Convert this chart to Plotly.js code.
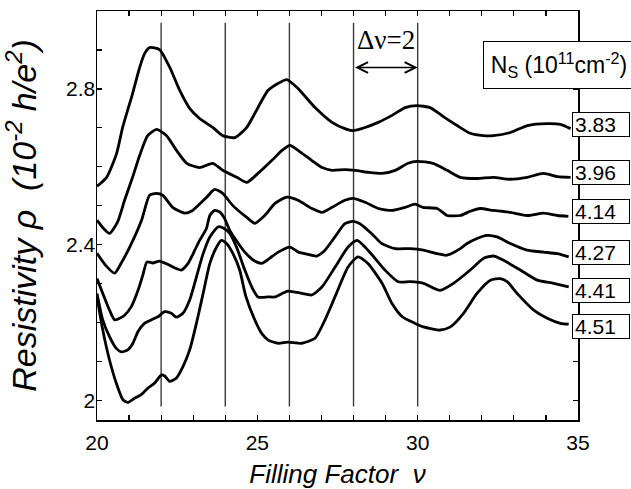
<!DOCTYPE html>
<html>
<head>
<meta charset="utf-8">
<script src="https://cdn.plot.ly/plotly-3.0.1.min.js"></script>
<style>
  html, body { margin: 0; padding: 0; background: #fff; }
  #chart { width: 631px; height: 489px; }
</style>
</head>
<body>
<div id="chart"></div>
<script>
// ---- Data (filling factor ν vs resistivity ρ) ----
const densities = ["3.83", "3.96", "4.14", "4.27", "4.41", "4.51"];

const nu_383 = [20.0, 20.30, 20.61, 20.80, 21.11, 21.33, 21.48, 21.64, 21.95, 22.27, 22.58, 22.89, 23.20, 23.61, 23.92, 24.30, 24.67, 24.92, 25.33, 25.64, 25.92, 26.27, 26.80, 27.33, 27.73, 27.98, 28.36, 28.77, 29.20, 29.61, 29.98, 30.39, 30.80, 31.23, 31.64, 32.05, 32.36, 32.89, 33.42, 34.05, 34.45, 34.77];
const rho_383 = [2.550, 2.573, 2.634, 2.701, 2.788, 2.855, 2.890, 2.906, 2.901, 2.855, 2.796, 2.750, 2.724, 2.701, 2.680, 2.675, 2.701, 2.737, 2.796, 2.814, 2.824, 2.801, 2.752, 2.714, 2.698, 2.693, 2.701, 2.714, 2.732, 2.752, 2.757, 2.752, 2.729, 2.706, 2.686, 2.680, 2.680, 2.688, 2.706, 2.711, 2.709, 2.698];

const nu_396 = [20.0, 20.20, 20.39, 20.64, 20.86, 21.11, 21.33, 21.58, 21.86, 22.17, 22.48, 22.80, 23.20, 23.61, 23.92, 24.36, 24.67, 25.02, 25.45, 25.77, 26.02, 26.27, 26.70, 27.02, 27.33, 27.73, 28.05, 28.45, 28.89, 29.30, 29.70, 29.98, 30.48, 30.92, 31.33, 31.86, 32.36, 32.89, 33.42, 33.92, 34.36, 34.77];
const rho_396 = [2.463, 2.442, 2.429, 2.458, 2.514, 2.573, 2.629, 2.680, 2.696, 2.680, 2.642, 2.609, 2.598, 2.609, 2.591, 2.573, 2.560, 2.583, 2.616, 2.642, 2.655, 2.642, 2.616, 2.598, 2.591, 2.593, 2.591, 2.586, 2.583, 2.591, 2.609, 2.614, 2.609, 2.591, 2.573, 2.570, 2.573, 2.568, 2.573, 2.583, 2.575, 2.573];

const nu_414 = [20.0, 20.27, 20.55, 20.77, 21.02, 21.39, 21.64, 21.86, 22.05, 22.36, 22.73, 22.98, 23.42, 23.67, 23.92, 24.23, 24.67, 24.92, 25.23, 25.55, 25.92, 26.27, 26.70, 27.02, 27.33, 27.73, 27.98, 28.36, 28.77, 29.20, 29.61, 29.92, 30.17, 30.61, 30.92, 31.33, 31.64, 31.95, 32.36, 32.89, 33.42, 33.92, 34.36, 34.70];
const rho_414 = [2.378, 2.347, 2.327, 2.355, 2.394, 2.463, 2.527, 2.532, 2.527, 2.496, 2.481, 2.488, 2.522, 2.542, 2.532, 2.501, 2.470, 2.455, 2.475, 2.506, 2.522, 2.514, 2.493, 2.483, 2.496, 2.514, 2.519, 2.509, 2.493, 2.488, 2.496, 2.504, 2.496, 2.493, 2.475, 2.475, 2.486, 2.493, 2.488, 2.483, 2.475, 2.481, 2.475, 2.473];

const nu_427 = [20.0, 20.18, 20.39, 20.55, 20.70, 20.86, 21.07, 21.28, 21.43, 21.56, 21.74, 21.95, 22.27, 22.47, 22.63, 22.84, 23.05, 23.20, 23.41, 23.52, 23.67, 23.83, 23.98, 24.14, 24.36, 24.61, 24.92, 25.13, 25.23, 25.65, 26.02, 26.28, 26.48, 26.85, 27.11, 27.42, 27.73, 27.98, 28.20, 28.56, 28.88, 29.30, 29.77, 30.18, 30.60, 30.91, 31.33, 31.54, 31.85, 32.16, 32.48, 32.89, 33.41, 33.93, 34.35, 34.71];
const rho_427 = [2.313, 2.275, 2.232, 2.207, 2.211, 2.219, 2.241, 2.283, 2.322, 2.356, 2.353, 2.358, 2.347, 2.339, 2.335, 2.352, 2.386, 2.411, 2.441, 2.475, 2.488, 2.484, 2.467, 2.437, 2.409, 2.381, 2.358, 2.352, 2.356, 2.381, 2.394, 2.381, 2.377, 2.371, 2.386, 2.420, 2.454, 2.460, 2.454, 2.429, 2.403, 2.390, 2.390, 2.386, 2.377, 2.373, 2.390, 2.403, 2.416, 2.424, 2.420, 2.403, 2.386, 2.381, 2.377, 2.369];

const nu_441 = [20.0, 20.18, 20.39, 20.60, 20.76, 20.96, 21.12, 21.28, 21.48, 21.69, 21.90, 22.11, 22.32, 22.47, 22.68, 22.89, 23.10, 23.31, 23.52, 23.78, 23.98, 24.14, 24.35, 24.61, 24.83, 25.02, 25.34, 25.55, 25.95, 26.39, 26.70, 27.02, 27.42, 27.83, 28.11, 28.45, 28.98, 29.39, 29.77, 30.18, 30.70, 31.12, 31.64, 32.06, 32.37, 32.68, 33.20, 33.73, 34.24, 34.71];
const rho_441 = [2.275, 2.207, 2.164, 2.134, 2.125, 2.130, 2.147, 2.177, 2.198, 2.207, 2.215, 2.228, 2.224, 2.214, 2.224, 2.258, 2.317, 2.377, 2.420, 2.446, 2.441, 2.429, 2.394, 2.335, 2.291, 2.266, 2.266, 2.266, 2.281, 2.275, 2.271, 2.292, 2.342, 2.394, 2.411, 2.386, 2.335, 2.305, 2.305, 2.301, 2.283, 2.301, 2.335, 2.365, 2.371, 2.360, 2.335, 2.309, 2.301, 2.292];

const nu_451 = [20.0, 20.18, 20.39, 20.60, 20.81, 20.96, 21.17, 21.38, 21.59, 21.80, 22.01, 22.11, 22.27, 22.47, 22.68, 22.89, 23.10, 23.31, 23.52, 23.73, 23.88, 24.04, 24.24, 24.45, 24.64, 24.92, 25.13, 25.34, 25.65, 25.95, 26.39, 26.80, 27.11, 27.42, 27.83, 28.14, 28.45, 28.89, 29.20, 29.52, 29.92, 30.18, 30.70, 31.02, 31.43, 31.85, 32.27, 32.58, 32.79, 33.10, 33.62, 34.04, 34.45, 34.71];
const rho_451 = [2.266, 2.181, 2.104, 2.045, 2.002, 1.995, 2.006, 2.015, 2.032, 2.045, 2.066, 2.063, 2.049, 2.057, 2.087, 2.130, 2.198, 2.275, 2.352, 2.394, 2.411, 2.403, 2.377, 2.335, 2.268, 2.207, 2.173, 2.155, 2.147, 2.150, 2.147, 2.160, 2.207, 2.266, 2.343, 2.369, 2.352, 2.301, 2.249, 2.215, 2.198, 2.189, 2.181, 2.189, 2.224, 2.275, 2.309, 2.313, 2.305, 2.275, 2.232, 2.211, 2.198, 2.196];

// label heights (in ρ units) for the density boxes at right
const labelRho = [2.7085, 2.5856, 2.4857, 2.3807, 2.2834, 2.1912];
// vertical guide lines at even filling factors
const guideNu = [22, 24, 26, 28, 30];
const guideRho = [1.9845, 2.970];
// Δν=2 arrow
const arrowNu = [28, 30];
const arrowRho = 2.855;

const xTickVals = [20, 25, 30, 35];
const yTickVals = [2, 2.4, 2.8];

// ---- Build figure ----
const series = [
  [nu_383, rho_383], [nu_396, rho_396], [nu_414, rho_414],
  [nu_427, rho_427], [nu_441, rho_441], [nu_451, rho_451]
];

const traces = series.map((s, i) => ({
  x: s[0], y: s[1], type: 'scatter', mode: 'lines',
  name: densities[i],
  line: { color: '#000', width: 2.8, shape: 'spline', smoothing: 0.6 },
  hoverinfo: 'skip'
}));

const FONT = 'Liberation Sans, Arial, Helvetica, sans-serif';

const shapes = guideNu.map(v => ({
  type: 'line', xref: 'x', yref: 'y', x0: v, x1: v, y0: guideRho[0], y1: guideRho[1],
  line: { color: '#3a3a3a', width: 1.4 }, layer: 'below'
}));

const annotations = densities.map((d, i) => ({
  xref: 'paper', yref: 'y', x: 0.9875, y: labelRho[i],
  xanchor: 'left', yanchor: 'middle',
  text: d, showarrow: false, align: 'left',
  font: { family: FONT, size: 21, color: '#000' },
  bgcolor: '#fff', bordercolor: '#000', borderwidth: 1, borderpad: 2,
  width: 52, height: 19
}));

annotations.push({
  xref: 'paper', yref: 'paper', x: 0.803, y: 0.9267,
  xanchor: 'left', yanchor: 'top',
  text: 'N<sub>S</sub> (10<sup>11</sup>cm<sup>-2</sup>)', showarrow: false,
  font: { family: FONT, size: 23, color: '#000' },
  bgcolor: '#fff', bordercolor: '#000', borderwidth: 1, borderpad: 2,
  width: 146, height: 42
});

annotations.push({
  xref: 'x', yref: 'y', x: (arrowNu[0] + arrowNu[1]) / 2, y: 2.926,
  text: 'Δν=2', showarrow: false,
  font: { family: 'Liberation Serif, Times New Roman, serif', size: 27, color: '#000' }
});

annotations.push({
  xref: 'x', yref: 'y', axref: 'x', ayref: 'y',
  x: arrowNu[1], y: arrowRho, ax: arrowNu[0], ay: arrowRho,
  text: '', showarrow: true, arrowhead: 5, startarrowhead: 5,
  arrowside: 'end+start', arrowsize: 1.4, arrowwidth: 1.5, arrowcolor: '#000',
  standoff: 0, startstandoff: 0
});

const layout = {
  width: 631, height: 489,
  margin: { l: 97, r: 53, t: 11, b: 69 },
  paper_bgcolor: '#fff', plot_bgcolor: '#fff',
  showlegend: false,
  font: { family: FONT, size: 21, color: '#000' },
  xaxis: {
    range: [20, 35], tickvals: xTickVals, ticktext: xTickVals.map(String),
    ticks: 'inside', ticklen: 5, tickwidth: 1.2, tickcolor: '#000',
    minor: { dtick: 1, tick0: 20, ticks: 'inside', ticklen: 5, tickwidth: 1.2, tickcolor: '#000', showgrid: false },
    showline: true, linecolor: '#000', linewidth: 1.5, mirror: 'ticks',
    showgrid: false, zeroline: false,
    tickfont: { family: FONT, size: 21 },
    ticklabelstandoff: 3,
    title: { text: 'Filling Factor\u00a0\u00a0<i>ν</i>', font: { family: FONT, size: 26, style: 'italic' }, standoff: 12 }
  },
  yaxis: {
    range: [1.95, 3.0], tickvals: yTickVals, ticktext: yTickVals.map(String),
    ticks: 'inside', ticklen: 5, tickwidth: 1.2, tickcolor: '#000',
    minor: { dtick: 0.1, tick0: 2, ticks: 'inside', ticklen: 5, tickwidth: 1.2, tickcolor: '#000', showgrid: false },
    showline: true, linecolor: '#000', linewidth: 1.5, mirror: 'ticks',
    showgrid: false, zeroline: false,
    tickfont: { family: FONT, size: 21 },
    ticklabelstandoff: -4,
    title: { text: 'Resistivity ρ\u00a0\u00a0(10<sup>-2</sup> h/e<sup>2</sup>)', font: { family: FONT, size: 34, style: 'italic' }, standoff: 22 }
  },
  shapes: shapes,
  annotations: annotations
};

Plotly.newPlot('chart', traces, layout, { staticPlot: true, displayModeBar: false });
</script>
</body>
</html>
